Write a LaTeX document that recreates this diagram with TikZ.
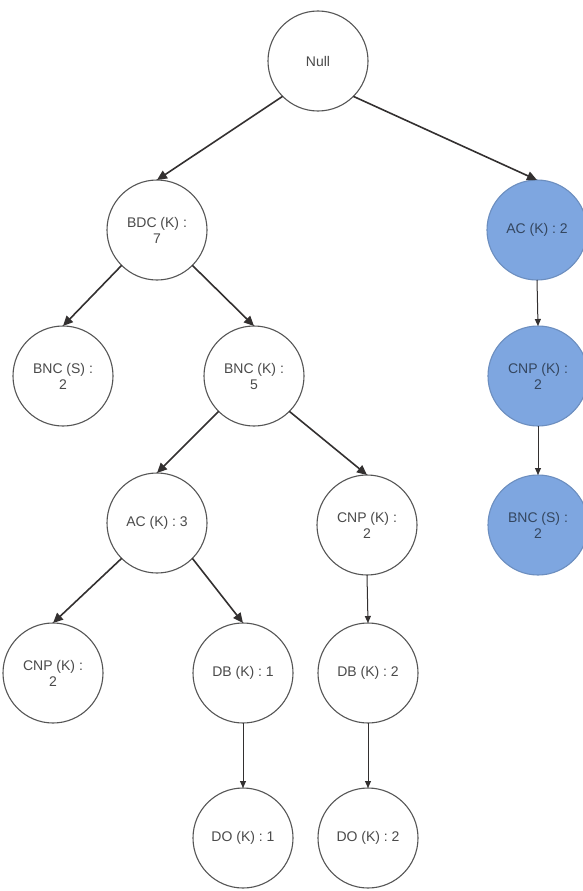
\documentclass[tikz,border=0pt]{standalone}
\usepackage{fontspec}
\setmainfont{Liberation Sans}
\usetikzlibrary{arrows.meta}
\definecolor{ln}{HTML}{555555}
\definecolor{txt}{HTML}{4A4A4A}
\definecolor{edge}{HTML}{333030}
\definecolor{bfill}{HTML}{7EA6E0}
\definecolor{bdraw}{HTML}{6C8EBF}
\definecolor{btxt}{HTML}{34465F}
\begin{document}
\begin{tikzpicture}[x=1pt,y=-1pt,
  nd/.style={circle, draw=ln, line width=1.1pt, fill=white, minimum size=100pt,
    inner sep=0pt, outer sep=0pt, align=center, text=txt, font=\fontsize{14}{16}\selectfont},
  bl/.style={nd, fill=bfill, draw=bdraw, text=btxt},
  diag/.style={draw=edge, line width=1.6pt, -{Triangle[length=10pt,width=9pt]}},
  vert/.style={draw=edge, line width=1pt, -{Triangle[length=7pt,width=6pt]}}]
\useasboundingbox (0,0) rectangle (582,891);
\node[nd] (null) at (318,61) {Null};
\node[nd] (bdc) at (157,230) {BDC (K) :\\7};
\node[bl] (ac2) at (537,230) {AC (K) : 2};
\node[nd] (bncs) at (63,376) {BNC (S) :\\2};
\node[nd] (bnck) at (254,376) {BNC (K) :\\5};
\node[bl] (cnpb) at (538,376) {CNP (K) :\\2};
\node[nd] (ac3) at (157,523) {AC (K) : 3};
\node[nd] (cnpk) at (367,525) {CNP (K) :\\2};
\node[bl] (bncsb) at (538,525) {BNC (S) :\\2};
\node[nd] (cnpl) at (53,673) {CNP (K) :\\2};
\node[nd] (db1) at (243,673) {DB (K) : 1};
\node[nd] (db2) at (368,673) {DB (K) : 2};
\node[nd] (do1) at (243,838) {DO (K) : 1};
\node[nd] (do2) at (368,838) {DO (K) : 2};
\draw[diag] (null.-135) -- (bdc.north);
\draw[diag] (null.-45) -- (ac2.north);
\draw[diag] (bdc.-135) -- (bncs.north);
\draw[diag] (bdc.-45) -- (bnck.north);
\draw[diag] (bnck.-135) -- (ac3.north);
\draw[diag] (bnck.-45) -- (cnpk.north);
\draw[diag] (ac3.-135) -- (cnpl.north);
\draw[diag] (ac3.-45) -- (db1.north);
\draw[vert] (cnpk.south) -- (db2.north);
\draw[vert] (db1.south) -- (do1.north);
\draw[vert] (db2.south) -- (do2.north);
\draw[vert] (ac2.south) -- (cnpb.north);
\draw[vert] (cnpb.south) -- (bncsb.north);
\end{tikzpicture}
\end{document}
